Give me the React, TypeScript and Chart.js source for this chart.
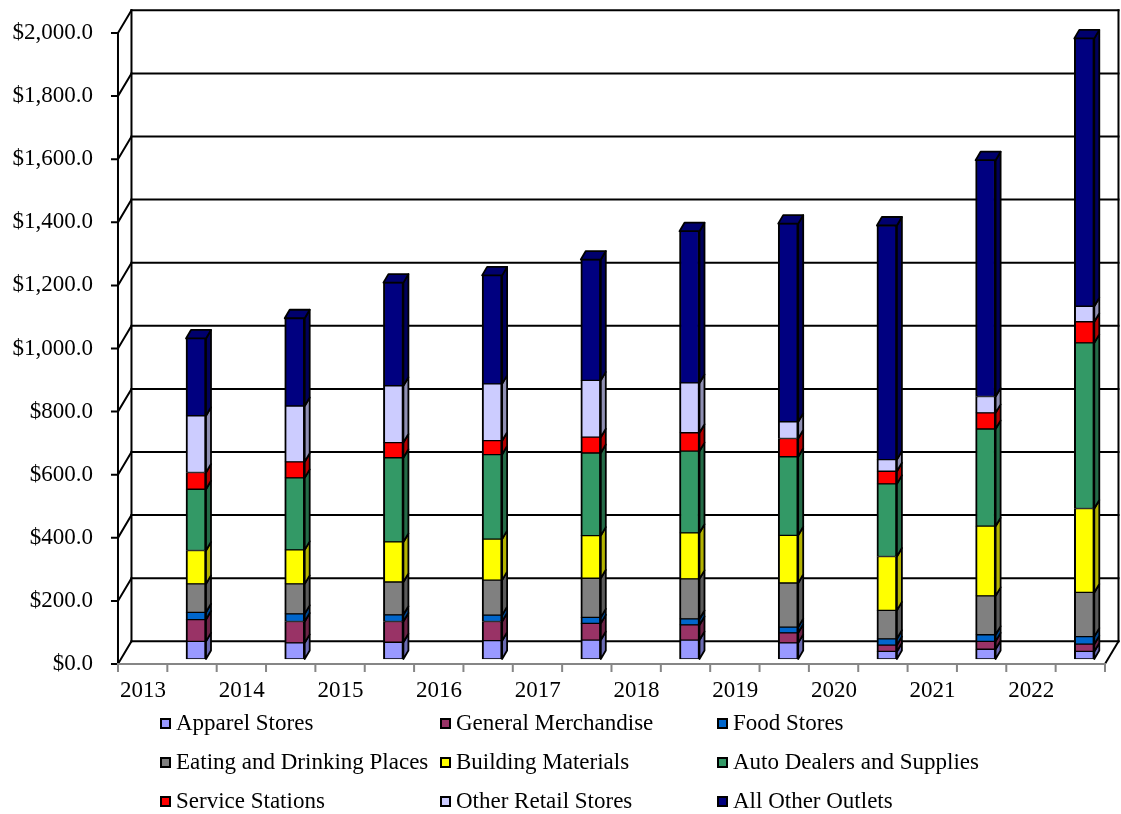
import React, { useEffect, useRef } from "react";
import { Chart, registerables } from "chart.js";

Chart.register(...registerables);

const years = ["2013", "2014", "2015", "2016", "2017", "2018", "2019", "2020", "2021", "2022"];

const apparelStores = [56, 51, 53, 58, 60, 60, 51, 24, 31, 24];
const generalMerchandise = [69, 68, 66, 61, 53, 48, 32, 20, 25, 23];
const foodStores = [23, 24, 21, 20, 19, 19, 18, 20, 21, 24];
const eatingDrinking = [90, 95, 104, 111, 124, 127, 140, 90, 123, 140];
const buildingMaterials = [106, 108, 127, 130, 135, 146, 151, 171, 221, 266];
const autoDealers = [194, 228, 267, 268, 262, 259, 249, 230, 308, 525];
const serviceStations = [53, 51, 48, 44, 50, 58, 58, 40, 51, 67];
const otherRetail = [180, 177, 180, 180, 180, 158, 53, 37, 52, 49];
const allOtherOutlets = [245, 278, 327, 344, 383, 481, 628, 742, 749, 849];

const seriesNames = [
  "Apparel Stores",
  "General Merchandise",
  "Food Stores",
  "Eating and Drinking Places",
  "Building Materials",
  "Auto Dealers and Supplies",
  "Service Stations",
  "Other Retail Stores",
  "All Other Outlets",
];
const seriesValues = [
  apparelStores,
  generalMerchandise,
  foodStores,
  eatingDrinking,
  buildingMaterials,
  autoDealers,
  serviceStations,
  otherRetail,
  allOtherOutlets,
];
const seriesColors = [
  "#9999FF",
  "#993366",
  "#0066CC",
  "#808080",
  "#FFFF00",
  "#339966",
  "#FF0000",
  "#CCCCFF",
  "#000080",
];

const FONT = "'Liberation Serif', 'Times New Roman', serif";
const FONT_SIZE = 23;

// geometry of the pseudo-3D frame
const BAR_POS = 0.76; // bar position inside a category (fraction)
const PLANE_DX = 3; // bar plane offset from front plane
const PLANE_DY = 5;
const WALL_DX = 13.5; // front -> back wall
const WALL_DY = -22.7;
const BAR_DX = 5; // bar depth
const BAR_DY = -8.5;

function shade(hex: string, f: number) {
  const n = parseInt(hex.slice(1), 16);
  const r = Math.round(((n >> 16) & 255) * f);
  const g = Math.round(((n >> 8) & 255) * f);
  const b = Math.round((n & 255) * f);
  return `rgb(${r},${g},${b})`;
}

function fmtMoney(v: number) {
  const s = v.toFixed(1);
  const [i, d] = s.split(".");
  return "$" + i.replace(/\B(?=(\d{3})+(?!\d))/g, ",") + "." + d;
}

const threeDPlugin = {
  id: "threeD",
  beforeDatasetsDraw(chart: any) {
    const ctx = chart.ctx;
    const xs = chart.scales.x;
    const ys = chart.scales.y;
    const step = xs.getPixelForValue(1) - xs.getPixelForValue(0);
    const fl = xs.getPixelForValue(0) - BAR_POS * step - PLANE_DX;
    const fr = fl + years.length * step;
    const fy = (v: number) => ys.getPixelForValue(v) + PLANE_DY;
    const tickVals: number[] = ys.ticks.map((t: any) => t.value);
    const vmax = Math.max(...tickVals);
    ctx.save();
    ctx.lineCap = "square";
    ctx.strokeStyle = "#000";
    ctx.lineWidth = 2;
    // back wall gridlines
    for (const v of tickVals) {
      ctx.beginPath();
      ctx.moveTo(fl + WALL_DX, fy(v) + WALL_DY);
      ctx.lineTo(fr + WALL_DX, fy(v) + WALL_DY);
      ctx.stroke();
    }
    // back wall vertical edges
    ctx.beginPath();
    ctx.moveTo(fl + WALL_DX, fy(0) + WALL_DY);
    ctx.lineTo(fl + WALL_DX, fy(vmax) + WALL_DY);
    ctx.moveTo(fr + WALL_DX, fy(0) + WALL_DY);
    ctx.lineTo(fr + WALL_DX, fy(vmax) + WALL_DY);
    ctx.stroke();
    // left wall diagonals and front ticks
    for (const v of tickVals) {
      ctx.beginPath();
      ctx.moveTo(fl, fy(v));
      ctx.lineTo(fl + WALL_DX, fy(v) + WALL_DY);
      ctx.moveTo(fl - 6, fy(v));
      ctx.lineTo(fl, fy(v));
      ctx.stroke();
    }
    ctx.beginPath();
    ctx.moveTo(fl, fy(0));
    ctx.lineTo(fl, fy(vmax));
    ctx.stroke();
    // floor right diagonal
    ctx.beginPath();
    ctx.moveTo(fr, fy(0));
    ctx.lineTo(fr + WALL_DX, fy(0) + WALL_DY);
    ctx.stroke();
    // floor front edge (grey) with category ticks
    ctx.strokeStyle = "#868686";
    ctx.beginPath();
    ctx.moveTo(fl, fy(0));
    ctx.lineTo(fr, fy(0));
    for (let k = 0; k <= years.length * 2; k++) {
      const px = fl + (k * step) / 2;
      ctx.moveTo(px, fy(0));
      ctx.lineTo(px, fy(0) + 7);
    }
    ctx.stroke();
    ctx.restore();
  },
  afterDatasetsDraw(chart: any) {
    const ctx = chart.ctx;
    const n = chart.data.datasets.length;
    ctx.save();
    ctx.strokeStyle = "#000";
    ctx.lineWidth = 1.8;
    ctx.lineJoin = "round";
    for (let d = 0; d < n; d++) {
      const meta = chart.getDatasetMeta(d);
      const col = seriesColors[d];
      meta.data.forEach((bar: any) => {
        const p = bar.getProps(["x", "y", "base", "width"], true);
        const left = p.x - p.width / 2;
        const right = p.x + p.width / 2;
        const top = Math.min(p.y, p.base);
        const bottom = Math.max(p.y, p.base);
        ctx.fillStyle = shade(col, 0.7);
        ctx.beginPath();
        ctx.moveTo(right, top);
        ctx.lineTo(right + BAR_DX, top + BAR_DY);
        ctx.lineTo(right + BAR_DX, bottom + BAR_DY);
        ctx.lineTo(right, bottom);
        ctx.closePath();
        ctx.fill();
        ctx.stroke();
        if (d === n - 1) {
          ctx.fillStyle = shade(col, 0.85);
          ctx.beginPath();
          ctx.moveTo(left, top);
          ctx.lineTo(left + BAR_DX, top + BAR_DY);
          ctx.lineTo(right + BAR_DX, top + BAR_DY);
          ctx.lineTo(right, top);
          ctx.closePath();
          ctx.fill();
          ctx.stroke();
        }
      });
    }
    ctx.restore();
  },
};

const legendCols = [160, 440, 717];
const legendRows = [723, 762, 801];

export default function App() {
  const ref = useRef<HTMLCanvasElement | null>(null);
  useEffect(() => {
    if (!ref.current) return;
    const chart = new Chart(ref.current, {
      type: "bar",
      data: {
        labels: years,
        datasets: seriesNames.map((name, i) => ({
          label: name,
          data: seriesValues[i],
          backgroundColor: seriesColors[i],
          borderColor: "#000",
          borderWidth: { top: 1, bottom: 1, left: 2, right: 2 },
          borderSkipped: false,
          barThickness: 20,
          clip: false as any,
        })),
      },
      options: {
        responsive: false,
        animation: false,
        events: [],
        layout: { padding: { left: 0, right: 36.7, top: 28, bottom: 0 } },
        plugins: { legend: { display: false }, tooltip: { enabled: false } },
        scales: {
          x: {
            type: "category",
            stacked: true,
            offset: false,
            grid: { display: false, drawTicks: false },
            border: { display: false },
            ticks: {
              color: "#000",
              font: { family: FONT, size: FONT_SIZE },
              labelOffset: -53,
              padding: 18,
              maxRotation: 0,
              autoSkip: false,
            },
            afterFit: (s: any) => {
              s.height = 814 - 659;
              s.paddingLeft = 0;
              s.paddingRight = 0;
            },
          },
          y: {
            stacked: true,
            min: 0,
            max: 2000,
            grid: { display: false, drawTicks: false },
            border: { display: false },
            ticks: {
              stepSize: 200,
              color: "#000",
              font: { family: FONT, size: FONT_SIZE },
              padding: 103,
              labelOffset: 5,
              callback: (v: any) => fmtMoney(Number(v)),
            },
            afterFit: (s: any) => {
              s.width = 196;
              s.paddingTop = 0;
              s.paddingBottom = 0;
            },
          },
        },
      },
      plugins: [threeDPlugin],
    });
    return () => chart.destroy();
  }, []);

  return (
    <div style={{ position: "absolute", left: 0, top: 0, width: 1121, height: 814, background: "#fff" }}>
      <canvas ref={ref} width={1121} height={814} style={{ display: "block", width: 1121, height: 814 }} />
      {seriesNames.map((name, i) => (
        <div
          key={name}
          style={{
            position: "absolute",
            left: legendCols[i % 3],
            top: legendRows[Math.floor(i / 3)] - 14,
            height: 28,
            display: "flex",
            alignItems: "center",
            fontFamily: FONT,
            fontSize: FONT_SIZE,
            color: "#000",
            whiteSpace: "nowrap",
          }}
        >
          <span
            style={{
              display: "inline-block",
              width: 11,
              height: 11,
              boxSizing: "border-box",
              border: "2px solid #000",
              background: seriesColors[i],
              marginRight: 5,
            }}
          />
          <span>{name}</span>
        </div>
      ))}
    </div>
  );
}
